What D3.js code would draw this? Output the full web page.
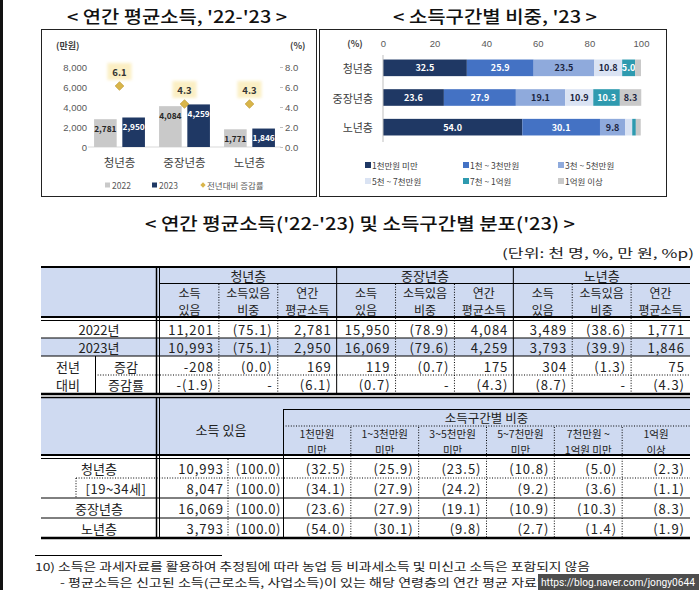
<!DOCTYPE html>
<html>
<head>
<meta charset="utf-8">
<script src="https://cdn.jsdelivr.net/npm/d3@7"></script>
<style>
  body { margin: 0; background: #fff; }
  svg { display: block; font-family: "Noto Sans CJK KR", "Noto Sans", sans-serif; }
</style>
</head>
<body>
<svg id="chart" width="699" height="590"></svg>
<script>
// ---- data ----
var groups = ["청년층", "중장년층", "노년층"];
var years = ["2022", "2023"];
var avgIncome2022 = [2781, 4084, 1771];
var avgIncome2023 = [2950, 4259, 1846];
var incomeRate = [6.1, 4.3, 4.3];

var brackets = ["1천만원 미만", "1천 ~ 3천만원", "3천 ~ 5천만원", "5천 ~ 7천만원", "7천 ~ 1억원", "1억원 이상"];
var shareYoung = [32.5, 25.9, 23.5, 10.8, 5.0, 2.3];
var shareMiddle = [23.6, 27.9, 19.1, 10.9, 10.3, 8.3];
var shareOld = [54.0, 30.1, 9.8, 2.7, 1.4, 1.9];
var share19to34 = [34.1, 27.9, 24.2, 9.2, 3.6, 1.1];

// table 1
var holders2022 = [11201, 15950, 3489];
var holders2023 = [10993, 16069, 3793];
var holderShare2022 = [75.1, 78.9, 38.6];
var holderShare2023 = [75.1, 79.6, 39.9];
var holdersChange = [-208, 119, 304];
var holderShareChange = [0.0, 0.7, 1.3];
var incomeChange = [169, 175, 75];
var holdersRate = [-1.9, 0.7, 8.7];

// table 2
var rowLabels2 = ["청년층", "[19~34세]", "중장년층", "노년층"];
var holders2 = [10993, 8047, 16069, 3793];
var holderTotal2 = [100.0, 100.0, 100.0, 100.0];
var bracketHeads = [["1천만원", "미만"], ["1~3천만원", "미만"], ["3~5천만원", "미만"],
                    ["5~7천만원", "미만"], ["7천만원 ~", "1억원 미만"], ["1억원", "이상"]];

var svg = d3.select("#chart");
var L = 41, R = 690;
var blue = "#cfdaf1";

// helpers
function txt(g, x, y, s, o) {
  o = o || {};
  var t = g.append("text")
    .attr("x", x).attr("y", y)
    .attr("dominant-baseline", "central")
    .attr("text-anchor", o.anchor || "middle")
    .style("font-size", (o.size || 13) + "px")
    .attr("fill", o.fill || "#222")
    .text(s);
  if (o.weight) t.style("font-weight", o.weight);
  if (o.ls) t.style("letter-spacing", o.ls + "px");
  if (o.len) t.attr("textLength", o.len).attr("lengthAdjust", "spacingAndGlyphs");
  return t;
}
function ln(g, x1, y1, x2, y2, w, dotted) {
  var l = g.append("line")
    .attr("x1", x1).attr("y1", y1).attr("x2", x2).attr("y2", y2)
    .attr("stroke", "#000").attr("stroke-width", w || 1);
  if (dotted) l.attr("stroke-dasharray", "1,1.6").attr("stroke-width", 1);
  return l;
}
var fmtN = function(v) { return (v < 0 ? "-" : "") + d3.format(",")(Math.abs(v)); };
var par = function(v) { return v < 0 ? "-(" + (-v).toFixed(1) + ")" : "(" + v.toFixed(1) + ")"; };

// left black strip
svg.append("rect").attr("x", 0).attr("y", 0).attr("width", 3).attr("height", 590).attr("fill", "#111");

// titles
txt(svg, 177, 15, "< 연간 평균소득, '22-'23 >", {size: 17, weight: 500, len: 220, fill: "#111"});
txt(svg, 495, 15, "< 소득구간별 비중, '23 >", {size: 17, weight: 500, len: 204, fill: "#111"});

// ================= chart 1 : grouped bars =================
var c1 = svg.append("g");
c1.append("rect").attr("x", 41.5).attr("y", 29.5).attr("width", 275).attr("height", 167)
  .attr("fill", "none").attr("stroke", "#222");

var x0 = d3.scaleBand().domain(groups).range([87, 282]);
var x1 = d3.scaleBand().domain(years).range([0, x0.bandwidth()]).paddingInner(0.2).paddingOuter(0.25);
var yL = d3.scaleLinear().domain([0, 8000]).range([147, 67]);
var yR = d3.scaleLinear().domain([0, 8]).range([147, 67]);
var yearColor = d3.scaleOrdinal().domain(years).range(["#c9c9c9", "#1f3864"]);

var axL = c1.append("g").attr("transform", "translate(90,0)")
  .call(d3.axisLeft(yL).tickValues([0, 2000, 4000, 6000, 8000]).tickSize(0).tickPadding(3).tickFormat(d3.format(",")));
var axR = c1.append("g").attr("transform", "translate(280,0)")
  .call(d3.axisRight(yR).tickValues([0, 2, 4, 6, 8]).tickSize(3).tickPadding(2).tickFormat(d3.format(".1f")));
[axL, axR].forEach(function(a) {
  a.select(".domain").remove();
  a.selectAll("line").attr("stroke", "#bfbfbf");
  a.selectAll("text").attr("fill", "#595959").style("font-size", "9.5px").style("font-family", "inherit");
});
c1.append("line").attr("x1", 88).attr("x2", 281).attr("y1", yL(0)).attr("y2", yL(0)).attr("stroke", "#d9d9d9");

txt(c1, 56, 45, "(만원)", {size: 9, anchor: "start", fill: "#404040", weight: 700});
txt(c1, 290, 45, "(%)", {size: 9, anchor: "start", fill: "#404040", weight: 700});

var barData = [];
groups.forEach(function(g, i) {
  barData.push({g: g, y: "2022", v: avgIncome2022[i]});
  barData.push({g: g, y: "2023", v: avgIncome2023[i]});
});
c1.selectAll(".bar").data(barData).enter().append("rect")
  .attr("class", "bar")
  .attr("x", function(d) { return x0(d.g) + x1(d.y); })
  .attr("y", function(d) { return yL(d.v); })
  .attr("width", x1.bandwidth())
  .attr("height", function(d) { return yL(0) - yL(d.v); })
  .attr("fill", function(d) { return yearColor(d.y); });
barData.forEach(function(d) {
  txt(c1, x0(d.g) + x1(d.y) + x1.bandwidth() / 2, yL(d.v) + 8.5, d3.format(",")(d.v),
    {size: 8.3, weight: 700, fill: d.y === "2023" ? "#fff" : "#262626"});
});

// change-rate diamonds
var glow = svg.append("defs").append("filter").attr("id", "glow").attr("x", "-30%").attr("y", "-30%").attr("width", "160%").attr("height", "160%");
glow.append("feGaussianBlur").attr("stdDeviation", 1.6);
groups.forEach(function(g, i) {
  var cx = x0(g) + x0.bandwidth() / 2, cy = yR(incomeRate[i]);
  c1.append("rect").attr("x", cx - 12).attr("y", cy - 23).attr("width", 24).attr("height", 17)
    .attr("fill", "#fbefc4").attr("filter", "url(#glow)");
  txt(c1, cx, cy - 14, incomeRate[i].toFixed(1), {size: 9.5, weight: 700, fill: "#333"});
  c1.append("path").attr("d", d3.symbol().type(d3.symbolDiamond2).size(48)())
    .attr("transform", "translate(" + cx + "," + cy + ")")
    .attr("fill", "#d9b54a").attr("stroke", "#b58f22").attr("stroke-width", 0.6);
});

groups.forEach(function(g) {
  txt(c1, x0(g) + x0.bandwidth() / 2, 162, g, {size: 11.5, fill: "#404040"});
});

// legend chart 1
c1.append("rect").attr("x", 105).attr("y", 182.5).attr("width", 5).attr("height", 5).attr("fill", yearColor("2022"));
txt(c1, 112, 185, "2022", {size: 8.5, anchor: "start", fill: "#595959"});
c1.append("rect").attr("x", 152).attr("y", 182.5).attr("width", 5).attr("height", 5).attr("fill", yearColor("2023"));
txt(c1, 159, 185, "2023", {size: 8.5, anchor: "start", fill: "#595959"});
c1.append("path").attr("d", d3.symbol().type(d3.symbolDiamond2).size(18)())
  .attr("transform", "translate(203,185)").attr("fill", "#d9b54a");
txt(c1, 207, 185, "전년대비 증감률", {size: 8.5, anchor: "start", fill: "#595959"});

// ================= chart 2 : stacked 100% bars =================
var c2 = svg.append("g");
c2.append("rect").attr("x", 319.5).attr("y", 29.5).attr("width", 347).attr("height", 167)
  .attr("fill", "none").attr("stroke", "#222");

var xs = d3.scaleLinear().domain([0, 100]).range([383, 641]);
var ys = d3.scaleBand().domain(groups).range([53, 142]).paddingInner(0.44).paddingOuter(0.22);
var bracketColor = d3.scaleOrdinal().domain(brackets)
  .range(["#1f3864", "#4472c4", "#8faadc", "#dae3f3", "#2e9aaf", "#c9c9c9"]);
var labelColor = ["#fff", "#fff", "#1c2540", "#1c2540", "#fff", "#1c2540"];

var axT = c2.append("g").attr("transform", "translate(0,47)")
  .call(d3.axisTop(xs).tickValues([0, 20, 40, 60, 80, 100]).tickSize(0).tickPadding(0));
axT.select(".domain").remove();
axT.selectAll("text").attr("fill", "#595959").style("font-size", "9.5px").style("font-family", "inherit");
txt(c2, 355, 43, "(%)", {size: 9, fill: "#404040", weight: 700});

var shareRows = [shareYoung, shareMiddle, shareOld].map(function(arr, i) {
  var o = {group: groups[i]};
  brackets.forEach(function(b, j) { o[b] = arr[j]; });
  return o;
});
var stack = d3.stack().keys(brackets)(shareRows);
stack.forEach(function(layer, j) {
  c2.selectAll(".seg" + j).data(layer).enter().append("rect")
    .attr("x", function(d) { return xs(d[0]); })
    .attr("y", function(d) { return ys(d.data.group); })
    .attr("width", function(d) { return xs(d[1]) - xs(d[0]); })
    .attr("height", ys.bandwidth())
    .attr("fill", bracketColor(layer.key));
  layer.forEach(function(d) {
    var v = d.data[layer.key];
    if (v < 4) return;
    txt(c2, (xs(d[0]) + xs(d[1])) / 2, ys(d.data.group) + ys.bandwidth() / 2, v.toFixed(1),
      {size: 9, weight: 700, fill: labelColor[j]});
  });
});
c2.append("line").attr("x1", 383).attr("x2", 383).attr("y1", 55).attr("y2", 142).attr("stroke", "#bfbfbf");
groups.forEach(function(g) {
  txt(c2, 373, ys(g) + ys.bandwidth() / 2, g, {size: 11, anchor: "end", fill: "#404040"});
});

// legend chart 2
var legX = [365, 463, 558], legY = [165, 181];
brackets.forEach(function(b, j) {
  var lx = legX[j % 3], ly = legY[Math.floor(j / 3)];
  c2.append("rect").attr("x", lx).attr("y", ly - 3).attr("width", 6).attr("height", 6).attr("fill", bracketColor(b));
  txt(c2, lx + 7, ly, b, {size: 8.5, anchor: "start", fill: "#404040"});
});

// ================= tables =================
txt(svg, 360, 222, "< 연간 평균소득('22-'23) 및 소득구간별 분포('23) >", {size: 17, weight: 500, len: 430, fill: "#111"});
txt(svg, R + 4, 252, "(단위: 천 명, %, 만 원, %p)", {size: 12, anchor: "end", fill: "#222", len: 192});

// ---- table 1 ----
var t1 = svg.append("g");
var col1 = d3.scaleBand().domain(d3.range(9)).range([160, R]);
var bw1 = col1.bandwidth();
t1.append("rect").attr("x", L).attr("y", 267).attr("width", R - L).attr("height", 50).attr("fill", blue);
t1.append("rect").attr("x", L).attr("y", 338).attr("width", R - L).attr("height", 18).attr("fill", blue);

var sub1 = [["소득", "있음"], ["소득있음", "비중"], ["연간", "평균소득"]];
groups.forEach(function(g, i) {
  txt(t1, col1(i * 3) + bw1 * 1.5, 275, g);
  sub1.forEach(function(s, k) {
    txt(t1, col1(i * 3 + k) + bw1 / 2, 292, s[0], {size: 12});
    txt(t1, col1(i * 3 + k) + bw1 / 2, 309, s[1], {size: 12});
  });
});

var rows1 = [
  {y: 329, cells: function(i) { return [fmtN(holders2022[i]), par(holderShare2022[i]), fmtN(avgIncome2022[i])]; }},
  {y: 347, cells: function(i) { return [fmtN(holders2023[i]), par(holderShare2023[i]), fmtN(avgIncome2023[i])]; }},
  {y: 366, cells: function(i) { return [fmtN(holdersChange[i]), par(holderShareChange[i]), fmtN(incomeChange[i])]; }},
  {y: 384, cells: function(i) { return [par(holdersRate[i]), "-", par(incomeRate[i])]; }}
];
rows1.forEach(function(r) {
  groups.forEach(function(g, i) {
    r.cells(i).forEach(function(s, k) {
      txt(t1, col1(i * 3 + k) + bw1 - 5, r.y, s, {anchor: "end", ls: 1});
    });
  });
});
txt(t1, 99, 329, "2022년");
txt(t1, 99, 347, "2023년");
txt(t1, 68, 366, "전년");
txt(t1, 68, 384, "대비");
txt(t1, 126, 366, "증감");
txt(t1, 126, 384, "증감률");

ln(t1, L, 267, R, 267, 2);
ln(t1, 160, 283.5, R, 283.5, 1);
ln(t1, L, 317, R, 317, 2);
ln(t1, L, 320.5, R, 320.5, 1);
ln(t1, L, 338, R, 338, 1);
ln(t1, L, 356, R, 356, 1);
ln(t1, 95, 375, R, 375, 1, true);
ln(t1, L, 394, R, 394, 2.5);
ln(t1, 95.5, 356, 95.5, 394, 1);
ln(t1, 156.5, 266, 156.5, 394, 1.5);
ln(t1, 159.5, 266, 159.5, 394, 1);
d3.range(1, 9).forEach(function(j) {
  if (j % 3 === 0) ln(t1, col1(j), 266, col1(j), 394, 1);
  else ln(t1, col1(j), 284, col1(j), 394, 1, true);
});

// ---- table 2 ----
var t2 = svg.append("g");
var col2 = d3.scaleBand().domain(d3.range(6)).range([283, R]);
var bw2 = col2.bandwidth();
t2.append("rect").attr("x", L).attr("y", 397).attr("width", R - L).attr("height", 58).attr("fill", blue);

txt(t2, 221, 429, "소득 있음");
txt(t2, (283 + R) / 2, 417, "소득구간별 비중", {size: 12.5});
bracketHeads.forEach(function(h, j) {
  txt(t2, col2(j) + bw2 / 2, 433.5, h[0], {size: 10.5});
  txt(t2, col2(j) + bw2 / 2, 449, h[1], {size: 10.5});
});

var rowY2 = [468, 488, 508, 528];
var rowShares2 = [shareYoung, share19to34, shareMiddle, shareOld];
rowLabels2.forEach(function(lab, r) {
  txt(t2, r === 1 ? 116 : 99, rowY2[r], lab, {ls: r === 1 ? 0.5 : 0});
  txt(t2, 224, rowY2[r], fmtN(holders2[r]), {anchor: "end", ls: 1});
  txt(t2, 281, rowY2[r], par(holderTotal2[r]), {anchor: "end", ls: 0.6});
  rowShares2[r].forEach(function(v, j) {
    txt(t2, col2(j) + bw2 - 5, rowY2[r], par(v), {anchor: "end", ls: 1});
  });
});

ln(t2, L, 397.5, R, 397.5, 1.5);
ln(t2, 283, 409.5, R, 409.5, 1);
ln(t2, 283, 426, R, 426, 1, true);
ln(t2, L, 455, R, 455, 2);
ln(t2, L, 458.5, R, 458.5, 1);
ln(t2, 76, 478, R, 478, 1, true);
ln(t2, L, 498, R, 498, 1);
ln(t2, L, 518, R, 518, 1);
ln(t2, L, 538, R, 538, 2.5);
ln(t2, 156.5, 397, 156.5, 538, 1.5);
ln(t2, 159.5, 397, 159.5, 538, 1);
ln(t2, 283.5, 409, 283.5, 538, 1);
ln(t2, 228, 459, 228, 538, 1, true);
ln(t2, 76, 478, 76, 498, 1, true);
d3.range(1, 6).forEach(function(j) {
  ln(t2, col2(j), 427, col2(j), 538, 1, true);
});

// ---- footnote ----
ln(svg, 35, 555.5, 222, 555.5, 1);
txt(svg, 35, 566, "10) 소득은 과세자료를 활용하여 추정됨에 따라 농업 등 비과세소득 및 미신고 소득은 포함되지 않음",
  {size: 11, anchor: "start", len: 555});
txt(svg, 60, 582, "- 평균소득은 신고된 소득(근로소득, 사업소득)이 있는 해당 연령층의 연간 평균 자료임",
  {size: 11, anchor: "start", len: 490});
svg.append("rect").attr("x", 538).attr("y", 574).attr("width", 161).attr("height", 16).attr("fill", "#4d4d4d");
svg.append("text").attr("x", 541).attr("y", 582).attr("dominant-baseline", "central")
  .style("font-family", "Roboto, sans-serif").style("font-size", "10px").attr("fill", "#fff")
  .attr("textLength", 154).attr("lengthAdjust", "spacingAndGlyphs")
  .text("https://blog.naver.com/jongy0644");
</script>
</body>
</html>
